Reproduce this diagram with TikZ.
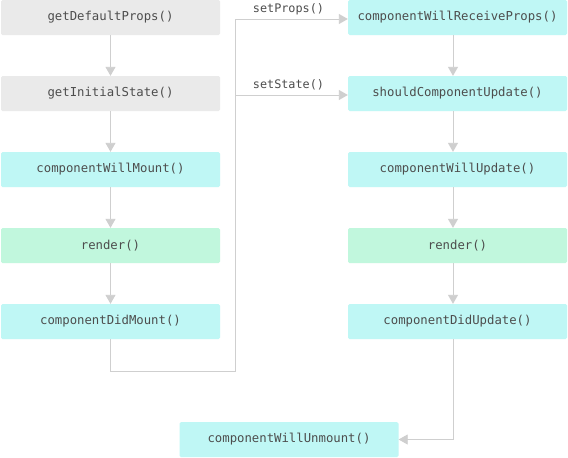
\documentclass[tikz,border=0pt]{standalone}
\usepackage{fontspec}
\setmonofont{DejaVu Sans Mono}
\usetikzlibrary{arrows.meta}
\definecolor{graybox}{HTML}{EAEAEA}
\definecolor{cyanbox}{HTML}{BFF7F5}
\definecolor{greenbox}{HTML}{C1F7DD}
\definecolor{txt}{HTML}{4D4D4D}
\definecolor{conn}{HTML}{CFCFCF}
\tikzset{
  box/.style={minimum width=219pt, minimum height=35pt, rounded corners=1.5pt, inner sep=0pt,
    font=\ttfamily\fontsize{12.3}{14}\selectfont, text=txt},
  gbox/.style={box, fill=graybox},
  cbox/.style={box, fill=cyanbox},
  rbox/.style={box, fill=greenbox},
  conn/.style={draw=conn, line width=0.9pt, -{Triangle[width=10pt,length=9pt]}},
  line/.style={draw=conn, line width=0.9pt},
  lbl/.style={font=\ttfamily\fontsize{11.8}{14}\selectfont, text=txt, inner sep=0pt}
}
\begin{document}
\begin{tikzpicture}[x=1pt,y=-1pt]
\useasboundingbox[fill=white] (0,0) rectangle (568,458);
\node[gbox] (gdp) at (110.5,17.5) {getDefaultProps()};
\node[gbox] (gis) at (110.5,93.5) {getInitialState()};
\node[cbox] (cwm) at (110.5,169.5) {componentWillMount()};
\node[rbox] (r1) at (110.5,245.5) {render()};
\node[cbox] (cdm) at (110.5,321.5) {componentDidMount()};

\node[cbox] (cwrp) at (457.5,17.5) {componentWillReceiveProps()};
\node[cbox] (scu) at (457.5,93.5) {shouldComponentUpdate()};
\node[cbox] (cwu) at (457.5,169.5) {componentWillUpdate()};
\node[rbox] (r2) at (457.5,245.5) {render()};
\node[cbox] (cdu) at (457.5,321.5) {componentDidUpdate()};

\node[cbox] (cwum) at (289,439.5) {componentWillUnmount()};

\node[lbl] (sp) at (288.5,9.5) {setProps()};
\node[lbl] (ss) at (288.5,85) {setState()};

\draw[conn] (gdp) -- (gis);
\draw[conn] (gis) -- (cwm);
\draw[conn] (cwm) -- (r1);
\draw[conn] (r1) -- (cdm);

\draw[conn] ([xshift=-4.5pt]cwrp.south) -- ([xshift=-4.5pt]scu.north);
\draw[conn] ([xshift=-4.5pt]scu.south) -- ([xshift=-4.5pt]cwu.north);
\draw[conn] ([xshift=-4.5pt]cwu.south) -- ([xshift=-4.5pt]r2.north);
\draw[conn] ([xshift=-4.5pt]r2.south) -- ([xshift=-4.5pt]cdu.north);

\coordinate (c1) at (110.5,371);
\coordinate (c2) at (235.5,371);
\coordinate (c3) at (235.5,19);
\coordinate (c4) at (235.5,95);
\draw[line] (cdm.south) -- (c1) -- (c2) -- (c3);
\draw[conn] (c3) -- (c3 -| cwrp.west);
\draw[conn] (c4) -- (c4 -| scu.west);

\coordinate (d1) at (453,439.5);
\draw[conn] ([xshift=-4.5pt]cdu.south) -- (d1) -- (cwum.east);
\end{tikzpicture}
\end{document}
